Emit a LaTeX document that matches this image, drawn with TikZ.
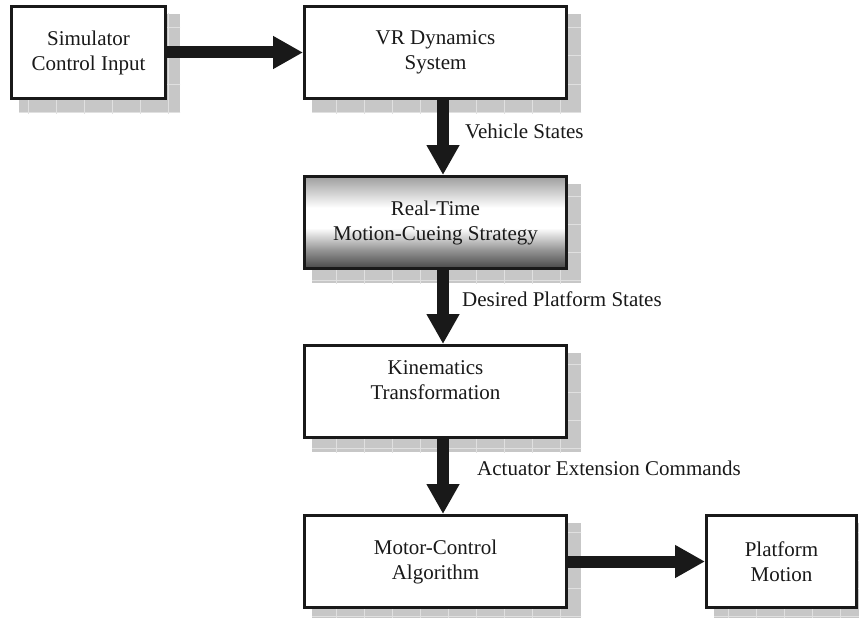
\documentclass[tikz,border=0pt]{standalone}
\usepackage{fontspec}
\setmainfont{Liberation Serif}
\usetikzlibrary{arrows.meta,backgrounds,calc}

% grey band at top, white core, darker band at the bottom
\pgfdeclareverticalshading{cueshade}{100bp}{color(0bp)=(black!72); color(25bp)=(black!72); color(35bp)=(black!42); color(47bp)=(white); color(58bp)=(white); color(75bp)=(black!38); color(100bp)=(black!38)}

\begin{document}
\begin{tikzpicture}[x=1pt,y=-1pt,
  box/.style={draw=black!90, line width=3pt, fill=white, minimum width=262pt,
    minimum height=92pt, align=center, text=black!90,
    font=\fontsize{21}{25}\selectfont, inner sep=2pt},
  flow/.style={draw=black!90, line width=12pt, -{Triangle[length=30pt,width=31pt]}},
  tag/.style={anchor=base west, text=black!90, font=\fontsize{21}{25}\selectfont, inner sep=0pt},
  tileshadow/.style={fill=black!22},
  tilegrid/.style={draw=black!12, line width=1pt}
]
\useasboundingbox (0,0) rectangle (859,618);

% blocks
\node[box, minimum width=154pt] (sim) at (88.5,52.5) {Simulator\\Control Input};
\node[box] (vr) at (435.5,52.5) {VR Dynamics\\System};
\node[box, shading=cueshade] (rt) at (435.5,222.5) {Real-Time\\Motion-Cueing Strategy};
\node[box, text depth=22pt] (kin) at (435.5,391.5) {Kinematics\\Transformation};
\node[box] (mc) at (435.5,561.5) {Motor-Control\\Algorithm};
\node[box, minimum width=150pt] (pm) at (781.5,561.5) {Platform\\Motion};

% tiled drop shadows behind the blocks
\begin{scope}[on background layer]
\foreach \n in {sim,vr,rt,kin,mc,pm}{
  \begin{scope}
    \clip ($(\n.north west)+(9,9)$) rectangle ($(\n.south east)+(13,13)$);
    \fill[tileshadow] ($(\n.north west)+(9,9)$) rectangle ($(\n.south east)+(13,13)$);
    \draw[tilegrid, step=28pt] (\n.north west) grid ($(\n.south east)+(20,20)$);
  \end{scope}
}
\end{scope}

% signal flow
\coordinate (ax) at (443,0);
\draw[flow] (sim.east) -- (vr.west);
\draw[flow] (vr.south -| ax) -- (rt.north -| ax);
\draw[flow] (rt.south -| ax) -- (kin.north -| ax);
\draw[flow] (kin.south -| ax) -- (mc.north -| ax);
\draw[flow] (mc.east) -- (pm.west);

% signal names
\node[tag] (l1) at (465,138) {Vehicle States};
\node[tag] (l2) at (462,306) {Desired Platform States};
\node[tag] (l3) at (477,475) {Actuator Extension Commands};
\end{tikzpicture}
\end{document}
